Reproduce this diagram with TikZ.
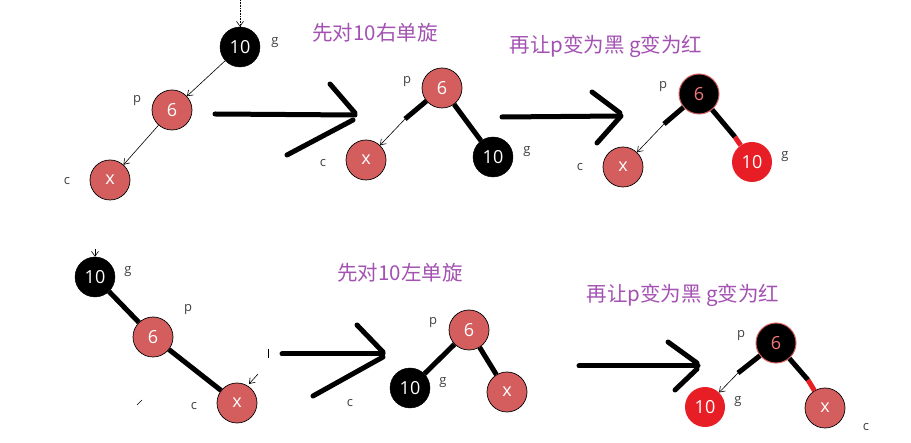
\documentclass[tikz,border=0pt]{standalone}
\usepackage{fontspec}
\setmainfont{Open Sans}
\newfontfamily\cjk{Noto Sans CJK SC}
\usetikzlibrary{arrows.meta}
\definecolor{nred}{RGB}{212,94,94}
\definecolor{bred}{RGB}{232,30,38}
\definecolor{ttlc}{RGB}{163,82,178}
\definecolor{lblc}{RGB}{64,64,64}
\definecolor{pinkd}{RGB}{245,120,120}
\begin{document}
\begin{tikzpicture}[x=1pt,y=-1pt,
 nd/.style={circle,minimum size=40pt,inner sep=0pt,font=\fontsize{18}{18}\selectfont},
 rn/.style={nd,fill=nred,draw=black,line width=0.7pt,text=white},
 bn/.style={nd,fill=black,draw=black,text=white},
 brn/.style={nd,fill=black,draw=nred,line width=1pt,text=pinkd},
 rrn/.style={nd,fill=bred,text=white},
 lbl/.style={text=lblc,font=\fontsize{13}{13}\selectfont},
 ttl/.style={text=ttlc,font=\cjk\fontsize{20.5}{20.5}\selectfont},
 thk/.style={line width=5pt},
 thn/.style={line width=0.6pt,-{Straight Barb[length=5pt,width=7pt]}},
 big/.style={line width=5pt,line cap=round},
 tiny/.style={line width=0.6pt},
]
\useasboundingbox (0,0) rectangle (911,443);
\fill[white] (0,0) rectangle (911,443);

% ---------------- top row ----------------
% tree 1
\node[bn] (a10) at (240,47) {10};
\node[rn] (a6) at (172,110) {6};
\node[rn] (ax) at (110,180) {x};
\node[lbl] (ag) at (275,43) {g};
\node[lbl] (ap) at (137,101) {p};
\node[lbl] (ac) at (67,181) {c};
\coordinate (atop) at (240,0);
\draw[thn,densely dotted] (atop) -- (a10);
\draw[thn] (a10) -- (a6);
\draw[thn] (a6) -- (ax);

% arrow 1
\coordinate (A1s) at (215,114);
\coordinate (A1t) at (355,115);
\coordinate (A1u) at (330,84);
\coordinate (A1l) at (287,155);
\coordinate (A1ut) at (355,113);
\coordinate (A1lt) at (353,120);
\draw[big] (A1s) -- (A1t);
\draw[big] (A1u) -- (A1ut);
\draw[big] (A1l) -- (A1lt);
\node[ttl] (t1) at (375,33) {先对10右单旋};

% tree 2
\node[rn] (b6) at (442,88) {6};
\node[rn] (bx) at (366,160) {x};
\node[bn] (b10) at (493,157) {10};
\node[lbl] (bp) at (407,82) {p};
\node[lbl] (bc) at (323,163) {c};
\node[lbl] (bg) at (527,152) {g};
\coordinate (bk) at (405,119);
\draw[thk] (b6) -- (b10);
\draw[thk] (b6) -- (bk);
\draw[thn] (bk) -- (bx);

% arrow 2
\coordinate (A2s) at (502,117);
\coordinate (A2t) at (620,116);
\coordinate (A2u) at (592,92);
\coordinate (A2ut) at (620,113);
\coordinate (A2l) at (597,143);
\coordinate (A2lt) at (621,116);
\draw[big] (A2s) -- (A2t);
\draw[big] (A2u) -- (A2ut);
\draw[big] (A2l) -- (A2lt);
\node[ttl] (t2) at (606,46) {再让p变为黑 g变为红};

% tree 3
\node[brn] (c6) at (699,94) {6};
\node[rrn] (c10) at (752,162) {10};
\node[rn] (cx) at (623,167) {x};
\node[lbl] (cp) at (663,87) {p};
\node[lbl] (cc) at (580,167) {c};
\node[lbl] (cg) at (785,157) {g};
\coordinate (ck) at (664,124);
\coordinate (cr) at (735,137);
\draw[thk] (c6) -- (ck);
\draw[thn] (ck) -- (cx);
\draw[thk] (c6) -- (cr);
\draw[thk,bred] (cr) -- (c10);

% ---------------- bottom row ----------------
% tree 4
\node[bn] (d10) at (95,277) {10};
\node[rn] (d6) at (153,337) {6};
\node[rn] (dx) at (237,403) {x};
\node[lbl] (dg) at (128,272) {g};
\node[lbl] (dp) at (188,310) {p};
\node[lbl] (dc) at (194,406) {c};
\coordinate (dtop) at (95,249);
\draw[thn] (dtop) -- (d10);
\draw[thk] (d10) -- (d6);
\draw[thk] (d6) -- (dx);
\coordinate (dm1) at (258,374);
\coordinate (dm2) at (249,384);
\draw[thn] (dm1) -- (dm2);
\coordinate (dm3) at (268,349);
\coordinate (dm4) at (268,358);
\draw[tiny] (dm3) -- (dm4);
\coordinate (dm5) at (137,405);
\coordinate (dm6) at (142,400);
\draw[tiny] (dm5) -- (dm6);

% arrow 3
\coordinate (A3s) at (282,354);
\coordinate (A3t) at (383,354);
\coordinate (A3u) at (357,325);
\coordinate (A3ut) at (383,352);
\coordinate (A3l) at (313,396);
\coordinate (A3lt) at (383,357);
\draw[big] (A3s) -- (A3t);
\draw[big] (A3u) -- (A3ut);
\draw[big] (A3l) -- (A3lt);
\node[ttl] (t3) at (400,273) {先对10左单旋};

% tree 5
\node[rn] (e6) at (469,330) {6};
\node[bn] (e10) at (410,388) {10};
\node[rn] (ex) at (507,392) {x};
\node[lbl] (ep) at (433,323) {p};
\node[lbl] (eg) at (443,383) {g};
\node[lbl] (ec) at (350,403) {c};
\draw[thk] (e10) -- (e6);
\draw[thk] (e6) -- (ex);

% arrow 4
\coordinate (A4s) at (579,366);
\coordinate (A4t) at (698,366);
\coordinate (A4u) at (668,342);
\coordinate (A4ut) at (697,363);
\coordinate (A4l) at (675,390);
\coordinate (A4lt) at (697,369);
\draw[big] (A4s) -- (A4t);
\draw[big] (A4u) -- (A4ut);
\draw[big] (A4l) -- (A4lt);
\node[ttl] (t4) at (683,295) {再让p变为黑 g变为红};

% tree 6
\node[brn] (f6) at (776,343) {6};
\node[rrn] (f10) at (705,407) {10};
\node[rn] (fx) at (825,408) {x};
\node[lbl] (fp) at (741,336) {p};
\node[lbl] (fg) at (738,402) {g};
\node[lbl] (fc) at (866,427) {c};
\coordinate (fk) at (738,373);
\coordinate (fr) at (808,380);
\draw[thk] (f6) -- (fk);
\draw[thn] (fk) -- (f10);
\draw[thk] (f6) -- (fr);
\draw[thk,bred] (fr) -- (fx);
\end{tikzpicture}
\end{document}
